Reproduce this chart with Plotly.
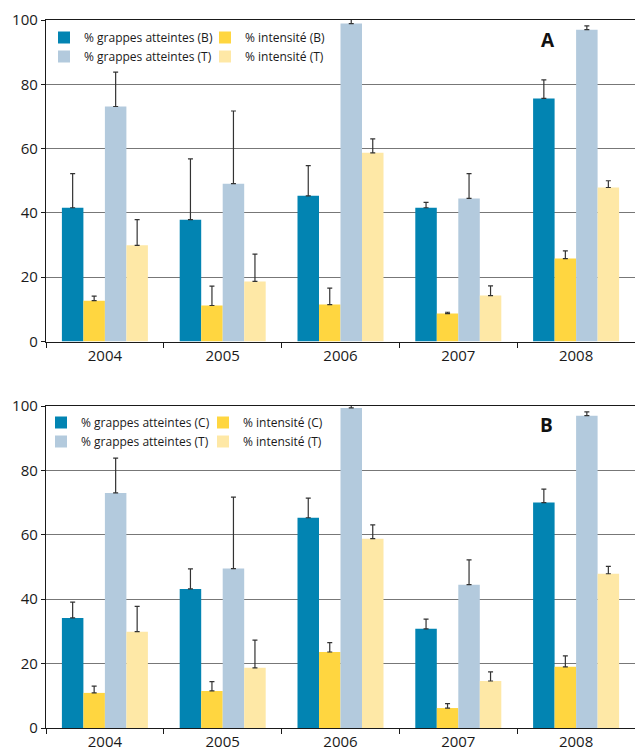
import plotly.graph_objects as go

years = ["2004", "2005", "2006", "2007", "2008"]

# Panel A : parcelles (B) vs témoin (T)
a_grappes_b = [41.6, 37.9, 45.3, 41.6, 75.6]
a_grappes_b_err = [10.6, 18.9, 9.4, 1.7, 5.8]
a_int_b = [12.7, 11.2, 11.5, 8.7, 25.8]
a_int_b_err = [1.4, 6.0, 5.1, 0.4, 2.4]
a_grappes_t = [73.1, 49.1, 98.9, 44.5, 97.0]
a_grappes_t_err = [10.7, 22.6, 1.3, 7.7, 1.2]
a_int_t = [29.9, 18.7, 58.7, 14.3, 47.9]
a_int_t_err = [8.0, 8.5, 4.3, 3.0, 2.1]

# Panel B : parcelles (C) vs témoin (T)
b_grappes_c = [34.2, 43.2, 65.3, 30.8, 70.0]
b_grappes_c_err = [4.9, 6.2, 6.1, 3.0, 4.2]
b_int_c = [10.9, 11.5, 23.6, 6.2, 19.0]
b_int_c_err = [2.1, 2.9, 2.9, 1.4, 3.4]
b_grappes_t = [73.0, 49.5, 99.4, 44.5, 97.0]
b_grappes_t_err = [10.8, 22.2, 0.8, 7.7, 1.2]
b_int_t = [29.9, 18.7, 58.8, 14.6, 47.9]
b_int_t_err = [7.9, 8.6, 4.3, 2.8, 2.3]

C_DARK = "#0284b2"
C_YEL = "#ffd640"
C_LIGHT = "#b3cadd"
C_PALE = "#fee8a6"

FONT = "Open Sans"

fig = go.Figure()


def add_bar(name, vals, errs, color, xa, ya, legend):
    fig.add_trace(go.Bar(
        x=years, y=vals, name=name,
        marker=dict(color=color, line=dict(width=0)),
        error_y=dict(type="data", symmetric=False, array=errs,
                     arrayminus=[0] * len(errs),
                     color="#333333", thickness=1.2, width=2.5),
        xaxis=xa, yaxis=ya, legend=legend, cliponaxis=False,
    ))


add_bar("% grappes atteintes (B)", a_grappes_b, a_grappes_b_err, C_DARK, "x", "y", "legend")
add_bar("% intensité (B)", a_int_b, a_int_b_err, C_YEL, "x", "y", "legend2")
add_bar("% grappes atteintes (T)", a_grappes_t, a_grappes_t_err, C_LIGHT, "x", "y", "legend")
add_bar("% intensité (T)", a_int_t, a_int_t_err, C_PALE, "x", "y", "legend2")

add_bar("% grappes atteintes (C)", b_grappes_c, b_grappes_c_err, C_DARK, "x2", "y2", "legend3")
add_bar("% intensité (C)", b_int_c, b_int_c_err, C_YEL, "x2", "y2", "legend4")
add_bar("% grappes atteintes (T)", b_grappes_t, b_grappes_t_err, C_LIGHT, "x2", "y2", "legend3")
add_bar("% intensité (T)", b_int_t, b_int_t_err, C_PALE, "x2", "y2", "legend4")

W, H = 635, 756
ML, MR, MT, MB = 46, 0, 20, 28
PW = W - ML - MR
PH = H - MT - MB


def px_x(p):
    return (p - ML) / PW


def px_y(p):
    return (H - MB - p) / PH


xcommon = dict(
    showline=True, linecolor="#1a1a1a", linewidth=1.3, mirror=True,
    ticks="outside", tickson="boundaries", ticklen=5, tickcolor="#1a1a1a",
    showgrid=False, tickfont=dict(family=FONT, size=15, color="#1a1a1a"),
)
ycommon = dict(
    range=[0, 100], dtick=20, showline=True, linecolor="#1a1a1a", linewidth=1.3,
    ticks="outside", ticklen=4, tickcolor="#1a1a1a",
    showgrid=True, gridcolor="#777777", gridwidth=1.3,
    zeroline=False, tickfont=dict(family=FONT, size=15, color="#1a1a1a"),
)

legend_common = dict(
    orientation="v", bgcolor="rgba(0,0,0,0)", borderwidth=0,
    font=dict(family=FONT, size=12, color="#1a1a1a"),
    xanchor="left", yanchor="top", itemclick=False, tracegroupgap=0,
)

fig.update_layout(
    width=W, height=H,
    margin=dict(l=ML, r=MR, t=MT, b=MB),
    paper_bgcolor="white", plot_bgcolor="white",
    barmode="group", bargap=0.27, bargroupgap=0,
    xaxis=dict(domain=[0, 1], anchor="y", **xcommon),
    yaxis=dict(domain=[px_y(341.5), 1], anchor="x", **ycommon),
    xaxis2=dict(domain=[0, 1], anchor="y2", **xcommon),
    yaxis2=dict(domain=[0, px_y(406)], anchor="x2", **ycommon),
    legend=dict(x=px_x(44), y=px_y(23), **legend_common),
    legend2=dict(x=px_x(205), y=px_y(23), **legend_common),
    legend3=dict(x=px_x(41), y=px_y(408), **legend_common),
    legend4=dict(x=px_x(203), y=px_y(408), **legend_common),
    annotations=[
        dict(text="<b>A</b>", x=px_x(548), y=px_y(40), xref="paper", yref="paper",
             xanchor="center", yanchor="middle",
             showarrow=False, font=dict(family=FONT, size=19, color="#111111")),
        dict(text="<b>B</b>", x=px_x(546), y=px_y(425), xref="paper", yref="paper",
             xanchor="center", yanchor="middle",
             showarrow=False, font=dict(family=FONT, size=19, color="#111111")),
    ],
)

fig.write_html("out.html")
